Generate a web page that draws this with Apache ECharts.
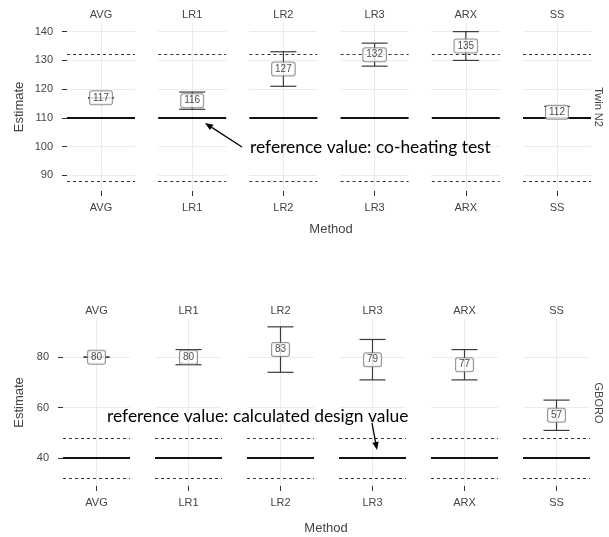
<!DOCTYPE html>
<html><head><meta charset="utf-8">
<script src="https://cdn.jsdelivr.net/npm/echarts@6/dist/echarts.min.js"></script>
<style>html,body{margin:0;padding:0;background:#fff}#c{width:609px;height:537px}</style>
</head><body><div id="c"></div>
<script>
// ---- data ----
const methods = ['AVG', 'LR1', 'LR2', 'LR3', 'ARX', 'SS'];

const twinEst = [117, 116, 127, 132, 135, 112];
const twinLo  = [117, 113, 121, 128, 130, 110];
const twinHi  = [117, 119, 133, 136, 140, 114];
const twinRef = 110;
const twinBand = [88, 132];
const twinTicks = [90, 100, 110, 120, 130, 140];

const gboroEst = [80, 80, 83, 79, 77, 57];
const gboroLo  = [80, 77, 74, 71, 71, 51];
const gboroHi  = [80, 83, 92, 87, 83, 63];
const gboroRef = 40;
const gboroBand = [32, 48];
const gboroTicks = [40, 60, 80];

const stripLabels = ['Twin N2', 'GBORO'];
const annotations = ['reference value: co-heating test', 'reference value: calculated design value'];

// ---- layout ----
const rows = [
  {est: twinEst, lo: twinLo, hi: twinHi, ref: twinRef, band: twinBand, ticks: twinTicks,
   min: 84.6, max: 143, top: 23, height: 168, left0: 67, step: 91.2, width: 68, nameGap: 41},
  {est: gboroEst, lo: gboroLo, hi: gboroHi, ref: gboroRef, band: gboroBand, ticks: gboroTicks,
   min: 29, max: 95.1, top: 319, height: 167, left0: 63, step: 92, width: 67, nameGap: 37}
];

const txt = '#444';
const font = '"Liberation Sans", Arial, sans-serif';
const grid = [], xAxis = [], yAxis = [], series = [];
let g = 0;
rows.forEach((r, ri) => {
  methods.forEach((m, i) => {
    grid.push({left: r.left0 + i * r.step, top: r.top, width: r.width, height: r.height});
    xAxis.push({type: 'category', gridIndex: g, data: [m], position: 'bottom',
      axisLine: {show: false}, splitLine: {show: false},
      axisTick: {show: true, alignWithLabel: true, length: 5, lineStyle: {color: '#333', width: 1}},
      axisLabel: {margin: 11, fontSize: 11, color: txt, fontFamily: font}});
    xAxis.push({type: 'category', gridIndex: g, data: [m], position: 'top',
      axisLine: {show: false}, axisTick: {show: false}, splitLine: {show: false},
      axisLabel: {margin: 3, fontSize: 11, color: txt, fontFamily: font}});
    const first = i === 0;
    yAxis.push({type: 'value', gridIndex: g, min: r.min, max: r.max,
      axisLine: {show: false}, splitLine: {show: false},
      axisTick: {show: first, length: 5, customValues: r.ticks, lineStyle: {color: '#333', width: 1}},
      axisLabel: {show: first, customValues: r.ticks, margin: 14, fontSize: 11, color: txt, fontFamily: font},
      name: first ? 'Estimate' : '', nameLocation: 'middle', nameGap: r.nameGap,
      nameTextStyle: {fontSize: 13, color: txt, fontFamily: font}});
    const xi = g * 2;
    // grid lines
    series.push({type: 'scatter', xAxisIndex: xi, yAxisIndex: g, z: 1, silent: true,
      symbolSize: 0, data: [[m, r.est[i]]],
      markLine: {z: 1, symbol: 'none', silent: true, animation: false, label: {show: false},
        lineStyle: {color: '#ebebeb', width: 1, type: 'solid'},
        data: r.ticks.map(v => ({yAxis: v})).concat([{xAxis: m}])}});
    // reference lines
    series.push({type: 'scatter', xAxisIndex: xi, yAxisIndex: g, z: 2, silent: true,
      symbolSize: 0, data: [[m, r.est[i]]],
      markLine: {z: 2, symbol: 'none', silent: true, animation: false, label: {show: false},
        data: [
          {yAxis: r.band[0], lineStyle: {color: '#333', width: 1, type: [3, 3]}},
          {yAxis: r.band[1], lineStyle: {color: '#333', width: 1, type: [3, 3]}},
          {yAxis: r.ref, lineStyle: {color: '#111', width: 2, type: 'solid'}}
        ]}});
    // error bars
    series.push({type: 'custom', xAxisIndex: xi, yAxisIndex: g, z: 3, silent: true,
      data: [[0, r.lo[i], r.hi[i]]],
      renderItem: (params, api) => {
        const x = api.value(0);
        const t = api.coord([x, api.value(2)]);
        const b = api.coord([x, api.value(1)]);
        const hw = 13;
        const st = {stroke: '#3a3a3a', lineWidth: 1.2};
        return {type: 'group', children: [
          {type: 'line', shape: {x1: t[0], y1: t[1], x2: b[0], y2: b[1]}, style: st},
          {type: 'line', shape: {x1: t[0] - hw, y1: t[1], x2: t[0] + hw, y2: t[1]}, style: st},
          {type: 'line', shape: {x1: b[0] - hw, y1: b[1], x2: b[0] + hw, y2: b[1]}, style: st}
        ]};
      }});
    // estimate labels
    series.push({type: 'scatter', xAxisIndex: xi, yAxisIndex: g, z: 4, silent: true,
      symbolSize: 1, itemStyle: {color: 'rgba(0,0,0,0)'}, data: [[m, r.est[i]]],
      label: {show: true, position: 'inside', formatter: p => String(p.value[1]),
        fontSize: 10, color: '#1a1a1a', fontFamily: font, backgroundColor: '#fff',
        borderColor: '#7a7a7a', borderWidth: 1, borderRadius: 2, padding: [2, 3, 1, 3], lineHeight: 10}});
    g++;
  });
});

function arrow(x1, y1, x2, y2) {
  const a = Math.atan2(y2 - y1, x2 - x1), L = 8, Wd = 3.2;
  const bx = x2 - L * Math.cos(a), by = y2 - L * Math.sin(a);
  return [
    {type: 'line', shape: {x1, y1, x2: bx, y2: by}, style: {stroke: '#000', lineWidth: 1.3}, z: 10},
    {type: 'polygon', shape: {points: [[x2, y2],
      [bx + Wd * Math.sin(a), by - Wd * Math.cos(a)],
      [bx - Wd * Math.sin(a), by + Wd * Math.cos(a)]]}, style: {fill: '#000'}, z: 10}
  ];
}

const annFont = 'Lato, "Open Sans", sans-serif';
const graphic = [
  {type: 'text', x: 331, y: 229, style: {text: 'Method', fontSize: 13, fill: txt, fontFamily: font, align: 'center', verticalAlign: 'middle'}},
  {type: 'text', x: 326, y: 528, style: {text: 'Method', fontSize: 13, fill: txt, fontFamily: font, align: 'center', verticalAlign: 'middle'}},
  {type: 'text', x: 598, y: 107, rotation: -Math.PI / 2, style: {text: stripLabels[0], fontSize: 11, fill: txt, fontFamily: font, align: 'center', verticalAlign: 'middle'}},
  {type: 'text', x: 598, y: 403, rotation: -Math.PI / 2, style: {text: stripLabels[1], fontSize: 11, fill: txt, fontFamily: font, align: 'center', verticalAlign: 'middle'}},
  {type: 'text', x: 250, y: 147, z: 10, style: {text: annotations[0], fontSize: 17.4, fill: '#000', fontFamily: annFont, align: 'left', verticalAlign: 'middle'}},
  {type: 'text', x: 107, y: 416, z: 10, style: {text: annotations[1], fontSize: 17.4, fill: '#000', fontFamily: annFont, align: 'left', verticalAlign: 'middle'}}
].concat(arrow(242, 147, 205, 123), arrow(372, 423, 377, 450));

const chart = echarts.init(document.getElementById('c'));
chart.setOption({animation: false, backgroundColor: '#fff', grid, xAxis, yAxis, series, graphic});
</script>
</body></html>
